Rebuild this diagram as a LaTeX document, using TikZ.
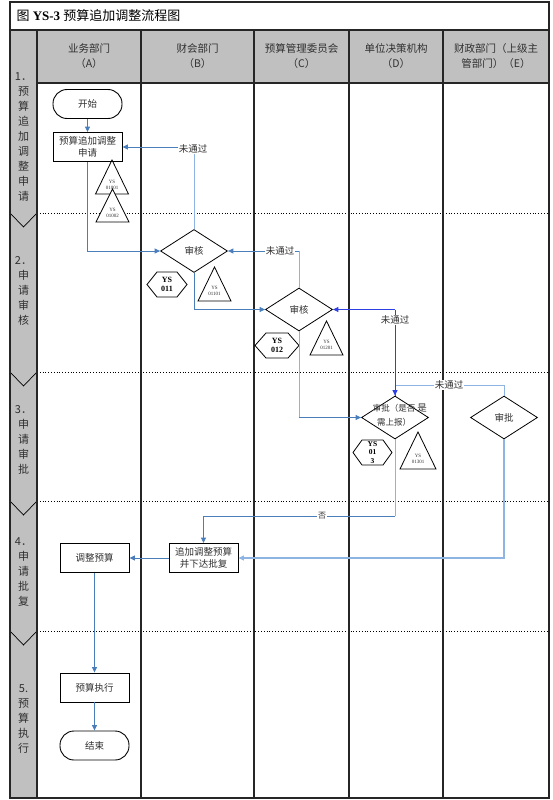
\documentclass[tikz,border=0pt]{standalone}
\usepackage{fontspec}
\setmainfont{Liberation Serif}
\newfontfamily\cjk{Noto Sans CJK SC}
\usetikzlibrary{shapes.geometric,arrows.meta}
\definecolor{hdrgray}{HTML}{C0C0C0}
\definecolor{lnblue}{HTML}{4A7EBB}
\definecolor{ltblue}{HTML}{8EB4E3}
\definecolor{dkblue}{HTML}{2E3FE6}
\definecolor{txtgray}{HTML}{303030}
\begin{document}
\begin{tikzpicture}[x=1pt,y=-1pt,
  every node/.style={text=txtgray},
  frame/.style={line width=1.2pt, black!85},
  sep/.style={line width=0.8pt, dotted},
  box/.style={draw=black, line width=0.9pt, minimum width=69, minimum height=29, inner sep=1pt,
    font=\cjk\fontsize{9.5}{12}\selectfont, align=center},
  term/.style={box, rounded corners=14pt},
  dia/.style={diamond, draw=black, line width=0.8pt, minimum width=67, minimum height=43, inner sep=0pt,
    font=\cjk\fontsize{9.5}{12}\selectfont, align=center},
  conn/.style={lnblue, line width=0.9pt},
  ltconn/.style={ltblue, line width=1pt},
  dkconn/.style={dkblue, line width=0.9pt},
  tip/.style={-{Triangle[length=5.5pt,width=5pt]}},
  lbl/.style={fill=white, inner sep=1pt, font=\cjk\fontsize{9.5}{11}\selectfont},
  phase/.style={font=\cjk\fontsize{11}{15}\selectfont, align=center, inner sep=0pt},
  hdr/.style={font=\cjk\fontsize{10.5}{15}\selectfont, align=center, inner sep=0pt},
  shp/.style={draw=black, line width=0.8pt},
  tritext/.style={font=\fontsize{5}{6}\selectfont, align=center, inner sep=0pt},
  hextext/.style={font=\bfseries\fontsize{8}{9.5}\selectfont, align=center, inner sep=0pt, text=black}
]
\useasboundingbox (0,0) rectangle (553,800);
% backgrounds
\fill[hdrgray] (37,30) rectangle (549,83);
\fill[hdrgray] (10,30) rectangle (37,798);
% phase separators
\foreach \yy in {213,372,501,631} {
  \draw[sep] (37,\yy) -- (549,\yy);
  \draw[line width=0.7pt] (10,\yy) -- (23.5,\yy+14) -- (37,\yy);
}
% grid
\draw[frame] (37,83) -- (549,83);
\draw[frame] (10,30) -- (549,30);
\foreach \xx in {37,141,254,349,443} { \draw[frame] (\xx,30) -- (\xx,798); }
\draw[frame] (10,2) rectangle (549,798);

% title
\node[anchor=west, font=\fontsize{13}{15}\selectfont, text=black] (title) at (13,16)
  {{\cjk 图} \textbf{YS-3} {\cjk 预算追加调整流程图}};

% headers
\node[hdr] (hA) at (89,56.5) {业务部门\\（A）};
\node[hdr] (hB) at (197.5,56.5) {财会部门\\（B）};
\node[hdr] (hC) at (301.5,56.5) {预算管理委员会\\（C）};
\node[hdr] (hD) at (396,56.5) {单位决策机构\\（D）};
\node[hdr] (hE) at (496,56.5) {财政部门（上级主\\管部门）（E）};

% phase labels
\node[phase] (p1) at (23.5,137) {1．\\预\\算\\追\\加\\调\\整\\申\\请};
\node[phase] (p2) at (23.5,291) {2．\\申\\请\\审\\核};
\node[phase] (p3) at (23.5,439.5) {3．\\申\\请\\审\\批};
\node[phase] (p4) at (23.5,572) {4．\\申\\请\\批\\复};
\node[phase] (p5) at (23.5,719.5) {5.\\预\\算\\执\\行};

% nodes
\node[term] (start) at (87.5,104) {开始};
\node[box] (apply) at (87.5,147) {预算追加调整\\申请};
\node[dia] (chkB) at (194,251) {审核};
\node[dia] (chkC) at (299,309.5) {审核};
\node[dia] (apprD) at (395,417.5) {};
\node[font=\cjk\fontsize{8.5}{14}\selectfont, align=center, inner sep=0pt] (apprDt) at (394,415) {审批（是否\\需上报）};
\node[lbl, fill=none] (yes) at (422,408) {是};
\node[dia] (apprE) at (504,417.5) {审批};
\node[box] (issue) at (203.5,558) {追加调整预算\\并下达批复};
\node[box] (adj) at (94.5,558) {调整预算};
\node[box] (exec) at (94.5,687.5) {预算执行};
\node[term] (end) at (94.5,745.5) {结束};

% triangles
\draw[shp] (112,160) -- (95.5,194) -- (128.5,194) -- cycle;
\node[tritext] (t1) at (112,185) {YS\\01001};
\draw[shp, fill=white] (112.5,189) -- (96,222) -- (129,222) -- cycle;
\node[tritext] (t2) at (112.5,213) {YS\\01002};
\draw[shp] (214.5,267) -- (198,301) -- (231,301) -- cycle;
\node[tritext] (t3) at (214.5,291) {YS\\01101};
\draw[shp] (326.5,321) -- (310,355) -- (343,355) -- cycle;
\node[tritext] (t4) at (326.5,345) {YS\\01201};
\draw[shp] (418,432) -- (400,469) -- (436,469) -- cycle;
\node[tritext] (t5) at (418,459) {YS\\01301};

% hexagons
\draw[shp] (147,284.5) -- (157,272) -- (177,272) -- (187,284.5) -- (177,297) -- (157,297) -- cycle;
\node[hextext] (h1) at (167,284.5) {YS\\011};
\draw[shp] (255,345.5) -- (266,333) -- (288,333) -- (299,345.5) -- (288,358) -- (266,358) -- cycle;
\node[hextext] (h2) at (277,345.5) {YS\\012};
\draw[shp] (353,452.5) -- (362,440) -- (383,440) -- (392,452.5) -- (383,465) -- (362,465) -- cycle;
\node[hextext, font=\bfseries\fontsize{7.5}{8.3}\selectfont] (h3) at (372.5,452.5) {YS\\01\\3};

% connectors
\draw[conn, tip] (start) -- (apply);
\draw[conn, tip] (apply.south) |- (chkB.west);

\coordinate (c1) at (chkB.north |- apply.east);
\draw[ltconn] (chkB.north) -- (c1);
\draw[conn, tip] (c1) -- (apply.east);
\node[lbl] (l1) at (193,149) {未通过};

\coordinate (c10) at (chkB.south |- chkC.west);
\draw[conn] (chkB.south) -- (c10);
\draw[conn, tip] (c10) -- (chkC.west);

\coordinate (c2) at (chkC.north |- chkB.east);
\draw[ltconn] (chkC.north) -- (c2);
\draw[conn, tip] (c2) -- (chkB.east);
\node[lbl] (l2) at (280,251) {未通过};

\coordinate (c3) at (apprD.north |- chkC.east);
\draw[dkconn] (apprD.north) -- (c3);
\draw[dkconn, tip] (c3) -- (chkC.east);
\node[lbl] (l3) at (395,320) {未通过};

\coordinate (c4) at (504,385);
\coordinate (c5) at (395,385);
\draw[ltconn] (apprE.north) -- (c4) -- (c5);
\draw[dkconn, tip] (c5) -- (apprD.north);
\node[lbl] (l4) at (449,385) {未通过};

\coordinate (c6) at (chkC.south |- apprD.west);
\draw[ltconn] (chkC.south) -- (c6);
\draw[conn, tip] (c6) -- (apprD.west);

\coordinate (c7) at (395,516);
\coordinate (c8) at (issue.north |- c7);
\draw[ltconn] (apprD.south) -- (c7);
\draw[conn] (c7) -- (c8);
\draw[conn, tip] (c8) -- (issue.north);
\node[lbl, font=\cjk\fontsize{8}{9}\selectfont] (l5) at (322,516) {否};

\coordinate (c9) at (apprE.south |- issue.east);
\draw[ltconn, line width=1.6pt, tip] (apprE.south) -- (c9) -- (issue.east);

\draw[conn, tip] (issue.west) -- (adj.east);
\draw[conn, tip] (adj.south) -- (exec.north);
\draw[conn, tip] (exec.south) -- (end.north);
\end{tikzpicture}
\end{document}
